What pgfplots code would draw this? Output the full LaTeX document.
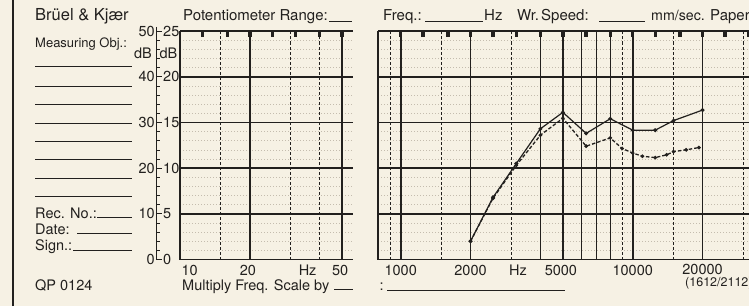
\documentclass[border=0pt]{standalone}
\usepackage{pgfplots}
\pgfplotsset{compat=1.18}
\usepackage{fontspec}
\setmainfont{TeX Gyre Heros}
\definecolor{paper}{RGB}{246,241,228}
\definecolor{ink}{RGB}{34,32,30}
\definecolor{faint}{RGB}{196,188,174}

\pgfplotstableread{
f db
2000 4.0
2500 13.6
3150 21.0
4000 28.6
5000 32.2
6300 27.6
8000 30.8
10000 28.3
12500 28.3
15000 30.4
20000 32.7
}\solidcurve

\pgfplotstableread{
f db
2000 4.0
2500 13.4
3150 20.6
4000 27.2
5000 30.9
6300 24.8
8000 26.6
9000 24.3
10000 23.3
11000 22.6
12500 22.3
14000 22.9
15000 23.6
17000 24.0
19300 24.5
}\dashedcurve

\tikzset{
  gthick/.style={draw=ink, line width=1.6pt},
  gmed/.style={draw=ink, line width=0.8pt},
  gmedb/.style={draw=ink, line width=1.1pt},
  gdash/.style={draw=ink, line width=0.8pt, dash pattern=on 3pt off 2pt},
  grect/.style={fill=ink, draw=none}}

\pgfplotsset{
  bkpaper/.style={
    scale only axis, height=228.5pt, ymin=0, ymax=50,
    axis x line*=box, axis y line*=left,
    axis line style={draw=ink, line width=1.9pt},
    ytick={0,10,20,30,40,50}, yticklabels={},
    ymajorgrids, major grid style={draw=ink, line width=1.6pt},
    minor ytick={2,4,6,8,12,14,16,18,22,24,26,28,32,34,36,38,42,44,46,48}, yminorgrids,
    minor grid style={draw=faint, line width=0.5pt, dash pattern=on 1pt off 2pt},
    xtick=\empty,
    major tick length=0pt, minor tick length=0pt,
    clip=false, anchor=south west}}

\begin{document}
\begin{tikzpicture}[font=\fontsize{14.5}{16}\selectfont]
\fill[paper] (0pt,0pt) rectangle (749pt,306pt);
\useasboundingbox (0pt,0pt) rectangle (749pt,306pt);
\clip (0pt,0pt) rectangle (749pt,306pt);

% left border of the sheet
\draw[ink, line width=1.8pt] (13pt,0pt) -- (13pt,306pt);

% ---------------- left panel ----------------
\begin{axis}[xmode=log, bkpaper, at={(180pt,46.5pt)}, width=173pt, xmin=10, xmax=55.7]
\pgfplotsinvokeforeach{20,50}{\draw[gthick] (axis cs:#1,0) -- (axis cs:#1,50);}
\pgfplotsinvokeforeach{15,30,40}{\draw[gdash] (axis cs:#1,0) -- (axis cs:#1,50);}
\pgfplotsinvokeforeach{12.5,16,20,25,31.5,40,50}{
  \fill[grect] ([xshift=-1.7pt]axis cs:#1,50) rectangle ([xshift=1.7pt,yshift=-6pt]axis cs:#1,50);}
\node[text=ink, anchor=west] at ([yshift=-10.5pt,xshift=-2pt]axis cs:10,0) {10};
\node[text=ink] at ([yshift=-10.5pt,xshift=-2pt]axis cs:20,0) {20};
\node[text=ink] at ([yshift=-10.5pt]axis cs:35.5,0) {Hz};
\node[text=ink] at ([yshift=-10.5pt,xshift=-2pt]axis cs:50,0) {50};
\end{axis}

% ---------------- right panel ----------------
\begin{axis}[xmode=log, bkpaper, at={(378.2pt,46.5pt)}, width=374.8pt, xmin=800, xmax=33000]
\pgfplotsinvokeforeach{1000,2000,5000,10000,20000}{\draw[gthick] (axis cs:#1,0) -- (axis cs:#1,50);}
\pgfplotsinvokeforeach{4000,8000}{\draw[gmedb] (axis cs:#1,0) -- (axis cs:#1,50);}
\pgfplotsinvokeforeach{6000,7000}{\draw[gmed] (axis cs:#1,0) -- (axis cs:#1,50);}
\pgfplotsinvokeforeach{900,1500,3000,9000,15000,30000}{\draw[gdash] (axis cs:#1,0) -- (axis cs:#1,50);}
\pgfplotsinvokeforeach{1000,1250,1600,2000,2500,3150,4000,5000,6300,8000,10000,12500,16000,20000,25000,31500}{
  \fill[grect] ([xshift=-1.7pt]axis cs:#1,50) rectangle ([xshift=1.7pt,yshift=-6pt]axis cs:#1,50);}
\addplot[draw=ink, line width=1.3pt, dash pattern=on 3.5pt off 2pt, mark=*, mark size=1.1pt,
  mark options={solid, fill=ink, draw=ink}] table[x=f,y=db] {\dashedcurve};
\addplot[draw=ink, line width=1.2pt, mark=*, mark size=1.3pt, mark options={fill=ink, draw=ink}] table[x=f,y=db] {\solidcurve};
\node[text=ink] at ([yshift=-10.5pt]axis cs:1000,0) {1000};
\node[text=ink] at ([yshift=-10.5pt]axis cs:2000,0) {2000};
\node[text=ink] at ([yshift=-10.5pt]axis cs:3200,0) {Hz};
\node[text=ink] at ([yshift=-10.5pt,xshift=-2pt]axis cs:5000,0) {5000};
\node[text=ink] at ([yshift=-10.5pt]axis cs:10000,0) {10000};
\node[text=ink] at ([yshift=-9.5pt]axis cs:20000,0) {20000};
\end{axis}

\begin{scope}[x=1pt,y=1pt]
% ---------------- dB scale ----------------
\draw[ink, line width=0.9pt] (156.7,279) -- (156.7,46.5) -- (162,46.5);
\foreach \a/\b in {0/0,10/5,20/10,30/15,40/20,50/25}{
  \draw[ink, line width=0.9pt] (156.7,{46.5+\a*4.57}) -- (161.5,{46.5+\a*4.57});
  \node[text=ink, anchor=east, inner sep=0pt] at (155,{46.5+\a*4.57}) {\a};
  \node[text=ink, anchor=west, inner sep=0pt] at (163,{46.5+\a*4.57}) {\b};
}
\foreach \m in {2,4,6,8,12,14,16,18,22,24,26,28,32,34,36,38,42,44,46,48}{
  \draw[ink, line width=0.6pt] (156.7,{46.5+\m*4.57}) -- (159.5,{46.5+\m*4.57});
}
\node[text=ink, inner sep=0pt] at (143,252.7) {dB};
\node[text=ink, inner sep=0pt] at (168.5,252.7) {dB};

% ---------------- header ----------------
\node[text=ink, anchor=base west, inner sep=0pt, font=\fontsize{16.5}{18}\selectfont] at (35,285) {Brüel \& Kjær};
\node[text=ink, anchor=base west, inner sep=0pt, font=\fontsize{13}{14}\selectfont] at (35,258.5) {Measuring Obj.:};
\node[text=ink, anchor=base west, inner sep=0pt, font=\fontsize{15}{16}\selectfont] at (183,285) {Potentiometer Range:};
\draw[ink, line width=0.8pt] (329,284.5) -- (352,284.5);
\node[text=ink, anchor=base west, inner sep=0pt, font=\fontsize{15}{16}\selectfont] at (383,285) {Freq.:};
\draw[ink, line width=0.8pt] (425,284.5) -- (483,284.5);
\node[text=ink, anchor=base west, inner sep=0pt, font=\fontsize{15}{16}\selectfont] at (484,285) {Hz};
\node[text=ink, anchor=base west, inner sep=0pt, font=\fontsize{15}{16}\selectfont] at (517,285) {Wr.};
\node[text=ink, anchor=base west, inner sep=0pt, font=\fontsize{15}{16}\selectfont] at (541,285) {Speed:};
\draw[ink, line width=0.8pt] (599,284.5) -- (645,284.5);
\node[text=ink, anchor=base west, inner sep=0pt, font=\fontsize{14.2}{16}\selectfont] at (651,285) {mm/sec.};
\node[text=ink, anchor=base west, inner sep=0pt, font=\fontsize{15}{16}\selectfont] at (710,285) {Paper Speed:};

% ---------------- form lines ----------------
\foreach \yy in {239.3,220,202,182.7,164.3,147,128,109.7}{
  \draw[ink, line width=0.8pt] (35,\yy) -- (131.7,\yy);
}
\node[text=ink, anchor=base west, inner sep=0pt] at (35,88) {Rec. No.:};
\draw[ink, line width=0.8pt] (97,88.5) -- (132,88.5);
\node[text=ink, anchor=base west, inner sep=0pt] at (35,72) {Date:};
\draw[ink, line width=0.8pt] (77,72.5) -- (132,72.5);
\node[text=ink, anchor=base west, inner sep=0pt] at (35,55.5) {Sign.:};
\draw[ink, line width=0.8pt] (73,56) -- (132,56);
\node[text=ink, anchor=base west, inner sep=0pt] at (35,15.5) {QP 0124};

% ---------------- footer ----------------
\node[text=ink, anchor=base west, inner sep=0pt] at (182,16) {Multiply Freq. Scale by};
\draw[ink, line width=0.8pt] (334,16.5) -- (353,16.5);
\node[text=ink, inner sep=0pt] at (381.7,19) {:};
\draw[ink, line width=0.8pt] (387,16) -- (565,16);
\node[text=ink, anchor=base west, inner sep=0pt, font=\fontsize{12.5}{14}\selectfont] at (685,19.5) {(1612/2112)};
\end{scope}
\end{tikzpicture}
\end{document}
